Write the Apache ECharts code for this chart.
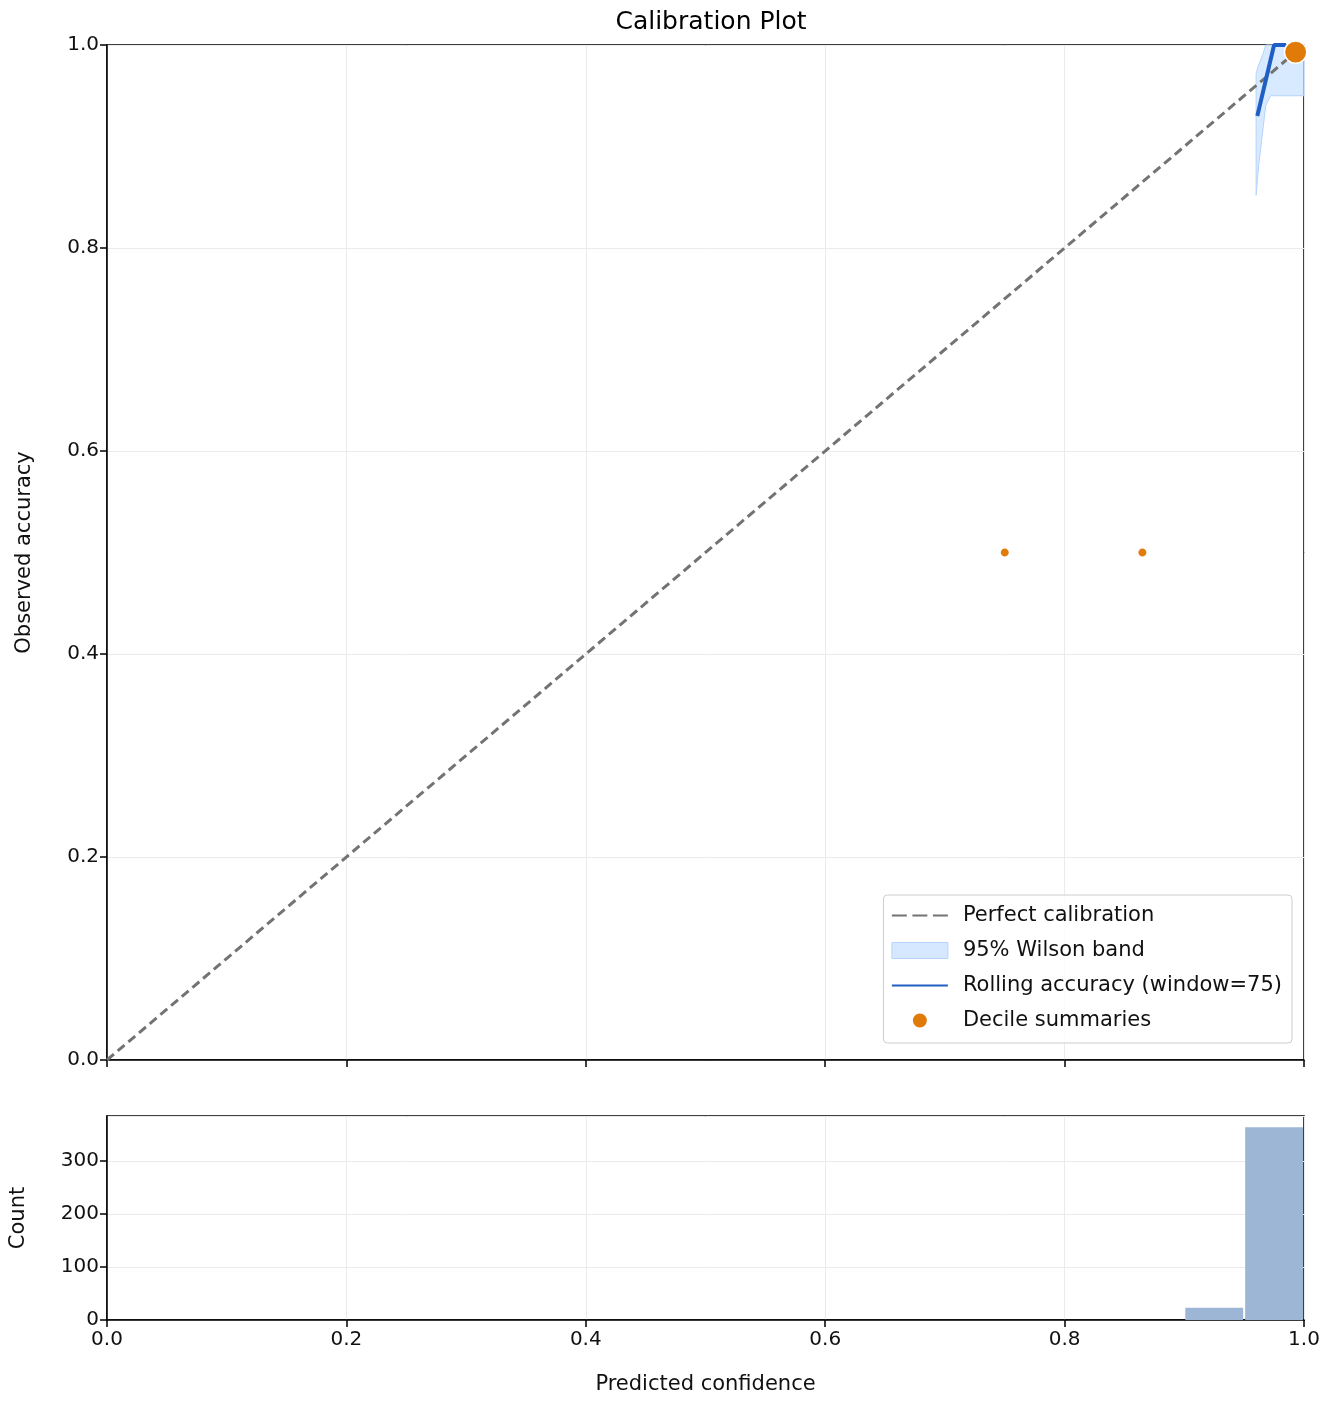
<!DOCTYPE html>
<html><head><meta charset="utf-8">
<script src="https://cdn.jsdelivr.net/npm/echarts@6/dist/echarts.min.js"></script>
<style>html,body{margin:0;background:#fff}#c{width:1332px;height:1404px}</style>
</head><body><div id="c"></div>
<script>
// Calibration plot: diagonal, Wilson band, rolling accuracy, decile points, histogram
const FONT = 'DejaVu Sans';
const perfectLine = [[0, 0], [1, 1]];
const bandX = [0.960, 0.962, 0.966, 0.968, 0.972, 0.976, 0.980, 0.990, 1.000];
const bandLower = [0.852, 0.88, 0.92, 0.94, 0.950, 0.950, 0.950, 0.950, 0.950];
const bandUpper = [0.972, 0.980, 0.992, 1.0, 1.0, 1.0, 1.0, 1.0, 1.0];
const rolling = [[0.961, 0.930], [0.975, 1.0], [0.985, 1.0]];
const deciles = [[0.75, 0.5, 4], [0.865, 0.5, 4], [0.993, 0.993, 370]];
const histBins = [[0.90, 0.95, 23], [0.95, 1.00, 364]];

const gridLine = { show: true, lineStyle: { color: '#ebebeb' } };
const axisLab = { fontSize: 20, color: '#111', fontFamily: FONT };
const axisLineBlack = { show: true, onZero: false, lineStyle: { color: '#000', width: 1.5 } };
const tick = { show: true, length: 7, lineStyle: { color: '#000', width: 1.5 } };
const nameStyle = { fontSize: 21, fontFamily: FONT, color: '#111' };

const chart = echarts.init(document.getElementById('c'));
chart.setOption({
  animation: false,
  title: { text: 'Calibration Plot', left: 706, textAlign: 'center', top: 5,
    textStyle: { fontSize: 25, fontWeight: 'normal', fontFamily: FONT, color: '#000' } },
  grid: [
    { left: 107, right: 28, top: 45, height: 1015, show: true, borderColor: '#000', borderWidth: 1.5 },
    { left: 107, right: 28, top: 1116, height: 204, show: true, borderColor: '#000', borderWidth: 1.5 },
  ],
  xAxis: [
    { type: 'value', gridIndex: 0, min: 0, max: 1, interval: 0.2, axisLine: axisLineBlack,
      axisTick: tick, axisLabel: { show: false }, splitLine: gridLine },
    { type: 'value', gridIndex: 1, min: 0, max: 1, interval: 0.2, axisLine: axisLineBlack,
      axisTick: tick, splitLine: gridLine,
      axisLabel: { ...axisLab, formatter: v => v.toFixed(1), margin: 10 },
      name: 'Predicted confidence', nameLocation: 'middle', nameGap: 54, nameTextStyle: nameStyle },
  ],
  yAxis: [
    { type: 'value', gridIndex: 0, min: 0, max: 1, interval: 0.2, axisLine: axisLineBlack,
      axisTick: tick, splitLine: gridLine,
      axisLabel: { ...axisLab, formatter: v => v.toFixed(1) },
      name: 'Observed accuracy', nameLocation: 'middle', nameGap: 72, nameTextStyle: nameStyle },
    { type: 'value', gridIndex: 1, min: 0, max: 385, interval: 100, axisLine: axisLineBlack,
      axisTick: tick, splitLine: gridLine, axisLabel: { ...axisLab, showMaxLabel: false },
      name: 'Count', nameLocation: 'middle', nameGap: 78, nameTextStyle: nameStyle },
  ],
  legend: {
    orient: 'vertical', right: 40, top: 895, itemWidth: 56, itemHeight: 16, itemGap: 14,
    padding: [10, 10, 12, 8], borderColor: '#ccc', borderWidth: 1, borderRadius: 4,
    backgroundColor: 'rgba(255,255,255,0.85)',
    textStyle: { fontSize: 21, fontFamily: FONT, color: '#111', padding: [0, 0, 0, 10] },
    data: [
      { name: 'Perfect calibration', icon: 'path://M0,0h8v1h-8zM11,0h8v1h-8zM22,0h8v1h-8z',
        itemStyle: { color: '#737373' } },
      { name: '95% Wilson band', icon: 'rect', itemStyle: { color: '#d6e8ff', borderColor: '#b5d3fb', borderWidth: 1 } },
      { name: 'Rolling accuracy (window=75)', icon: 'path://M0,0h30v1h-30z', itemStyle: { color: '#1f5fc4' } },
      { name: 'Decile summaries', icon: 'circle', itemStyle: { color: '#e07b0a' } },
    ],
  },
  series: [
    { name: 'Perfect calibration', type: 'line', xAxisIndex: 0, yAxisIndex: 0, data: perfectLine,
      showSymbol: false, symbol: 'none', lineStyle: { color: '#737373', width: 3, type: [9, 5] }, itemStyle: { color: '#737373' }, z: 3 },
    { name: '95% Wilson band', type: 'custom', xAxisIndex: 0, yAxisIndex: 0, z: 2,
      data: bandX.map((x, i) => [x, bandLower[i], bandUpper[i]]),
      renderItem: (params, api) => {
        if (params.dataIndex !== 0) return null;
        const up = bandX.map((x, i) => api.coord([x, bandUpper[i]]));
        const lo = bandX.map((x, i) => api.coord([x, bandLower[i]])).reverse();
        return { type: 'polygon', shape: { points: up.concat(lo) },
          style: { fill: 'rgba(190,220,255,0.6)', stroke: '#b5d3fb', lineWidth: 1 } };
      },
      itemStyle: { color: '#d6e8ff' } },
    { name: 'Rolling accuracy (window=75)', type: 'line', xAxisIndex: 0, yAxisIndex: 0, data: rolling,
      showSymbol: false, symbol: 'none', clip: false, lineStyle: { color: '#1f5fc4', width: 4 }, itemStyle: { color: '#1f5fc4' }, z: 4 },
    { name: 'Decile summaries', type: 'scatter', xAxisIndex: 0, yAxisIndex: 0, clip: false,
      data: deciles, symbolSize: d => 8 + Math.sqrt(d[2]) * 0.75,
      itemStyle: { color: '#e07b0a', opacity: 1, borderColor: '#fff', borderWidth: 1.5 }, z: 5 },
    { name: 'hist', type: 'custom', xAxisIndex: 1, yAxisIndex: 1, data: histBins,
      renderItem: (params, api) => {
        const a = api.coord([api.value(0), api.value(2)]);
        const b = api.coord([api.value(1), 0]);
        return { type: 'rect', shape: { x: a[0] + 1, y: a[1], width: b[0] - a[0] - 2, height: b[1] - a[1] },
          style: { fill: '#9db6d6' } };
      } },
  ],
});
</script></body></html>
